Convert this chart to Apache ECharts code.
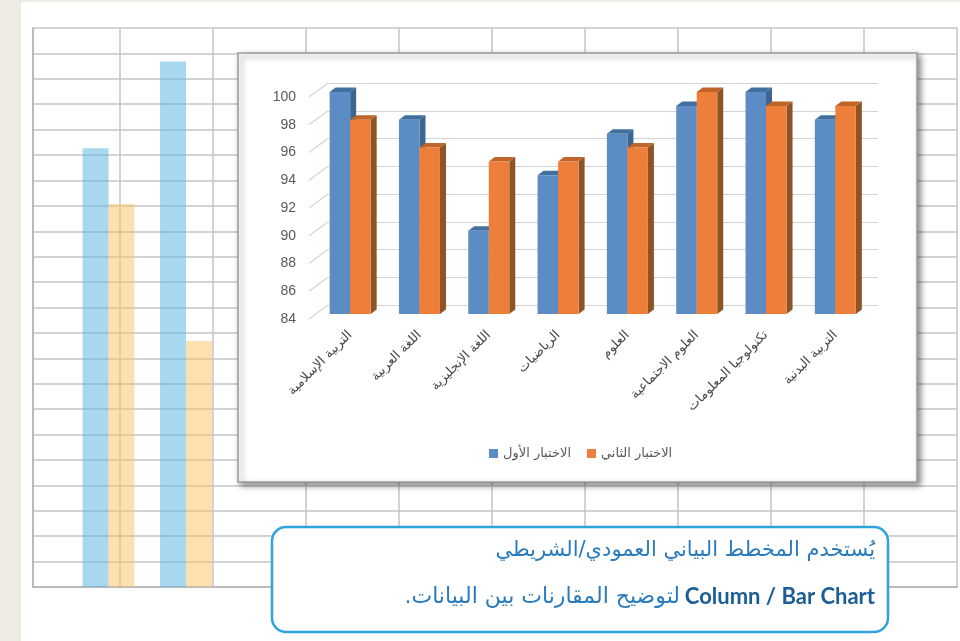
<!DOCTYPE html>
<html><head><meta charset="utf-8">
<script src="https://cdn.jsdelivr.net/npm/echarts@6/dist/echarts.min.js"></script>
<style>html,body{margin:0;padding:0;background:#ffffff;} #c{width:960px;height:641px;}</style>
</head><body><div id="c"></div>
<script>
// ---- data ----
const categories = ['التربية الإسلامية','اللغة العربية','اللغة الإنجليزية','الرياضيات','العلوم','العلوم الاجتماعية','تكنولوجيا المعلومات','التربية البدنية'];
const firstTest = [100, 98, 90, 94, 97, 99, 100, 98];
const secondTest = [98, 96, 95, 95, 96, 100, 99, 99];
const seriesNames = ['الاختبار الأول', 'الاختبار الثاني'];
const yTicks = [84, 86, 88, 90, 92, 94, 96, 98, 100];
const bgCategories = ['1', '2'];
const bgFirst = [78.5, 94];
const bgSecond = [68.5, 44];
const calloutLine1 = 'يُستخدم المخطط البياني العمودي/الشريطي';
const calloutLine2En = 'Column / Bar Chart';
const calloutLine2Ar = 'لتوضيح المقارنات بين البيانات.';

// ---- styles ----
const DEPTH = [6, -4.5];
const TICK_DEPTH = [19, -14];
const blueFaces = {front: '#5b8cc4', side: '#3a6690', top: '#41709e'};
const orangeFaces = {front: '#ee7f3b', side: '#8f5426', top: '#bf6529'};
const AR_FONT = '"DejaVu Sans", sans-serif';
const RLM = '\u200F';

function makeBarRender(side, c) {
  return function (params, api) {
    const idx = api.value(0), v = api.value(1);
    const top = api.coord([idx, v]);
    const base = api.coord([idx, yTicks[0]]);
    const band = api.size([1, 0])[0];
    const w = band * 0.296;
    const x0 = side === 0 ? top[0] - w : top[0];
    const x1 = x0 + w;
    const yt = top[1], yb = base[1];
    const dx = DEPTH[0], dy = DEPTH[1];
    return {type: 'group', children: [
      {type: 'polygon', shape: {points: [[x1, yt], [x1 + dx, yt + dy], [x1 + dx, yb + dy], [x1, yb]]}, style: {fill: c.side}},
      {type: 'polygon', shape: {points: [[x0, yt], [x1, yt], [x1 + dx, yt + dy], [x0 + dx, yt + dy]]}, style: {fill: c.top}},
      {type: 'rect', shape: {x: x0, y: yt, width: w, height: yb - yt}, style: {fill: c.front}}
    ]};
  };
}

const chart = echarts.init(document.getElementById('c'), null, {renderer: 'canvas'});
const option = {
  backgroundColor: '#ffffff',
  animation: false,
  grid: [
    {left: 33, right: 3, top: 28, bottom: 54},          // sheet
    {left: 69.75, right: 735.25, top: 28, bottom: 54},  // sheet bars
    {left: 328, right: 82, top: 83, bottom: 336},        // back wall
    {left: 309, right: 101, top: 97, bottom: 322},       // front plane (labels)
    {left: 315.5, right: 90, top: 92, bottom: 327}       // bar plane
  ],
  xAxis: [
    {gridIndex: 0, type: 'value', min: 0.07, max: 10, splitNumber: 10,
      axisLabel: {show: false}, axisTick: {show: false},
      axisLine: {show: true, lineStyle: {color: '#bababa', width: 2}},
      splitLine: {show: true, lineStyle: {color: '#c4c4c4', width: 1.5}}},
    {gridIndex: 1, type: 'category', data: bgCategories, show: false},
    {gridIndex: 2, type: 'category', data: categories, show: false},
    {gridIndex: 3, type: 'category', data: categories, show: false},
    {gridIndex: 4, type: 'category', data: categories, z: 20,
      axisLine: {show: false}, axisTick: {show: false},
      axisLabel: {rotate: 45, margin: 19, fontSize: 13, color: '#4a4a4a', fontFamily: AR_FONT, interval: 0}}
  ],
  yAxis: [
    {gridIndex: 0, type: 'value', min: 0, max: 22, interval: 1,
      axisLabel: {show: false}, axisTick: {show: false},
      axisLine: {show: true, lineStyle: {color: '#bababa', width: 2}},
      splitLine: {show: true, lineStyle: {color: '#c4c4c4', width: 1.5}}},
    {gridIndex: 1, type: 'value', min: 0, max: 100, show: false},
    {gridIndex: 2, type: 'value', min: 84, max: 100, interval: 2, z: 20,
      axisLabel: {show: false}, axisTick: {show: false}, axisLine: {show: false},
      splitLine: {show: true, lineStyle: {color: '#d4d4d4', width: 1.2}}},
    {gridIndex: 3, type: 'value', min: 84, max: 100, interval: 2, z: 20,
      axisTick: {show: false}, axisLine: {show: false}, splitLine: {show: false},
      axisLabel: {margin: 13, fontSize: 14, color: '#595959', fontFamily: '"Liberation Sans", sans-serif'}},
    {gridIndex: 4, type: 'value', min: 84, max: 100, show: false}
  ],
  legend: {
    data: seriesNames, left: 484, top: 442, z: 30,
    icon: 'rect', itemWidth: 9, itemHeight: 9, itemGap: 16, itemStyle: {borderWidth: 0},
    textStyle: {fontSize: 13, color: '#595959', fontFamily: AR_FONT}
  },
  series: [
    {type: 'bar', xAxisIndex: 1, yAxisIndex: 1, data: bgFirst, barGap: '0%', barCategoryGap: '33%',
      itemStyle: {color: 'rgba(97,184,226,0.55)'}, z: 3, silent: true},
    {type: 'bar', xAxisIndex: 1, yAxisIndex: 1, data: bgSecond, barGap: '0%', barCategoryGap: '33%',
      itemStyle: {color: 'rgba(251,193,97,0.5)'}, z: 3, silent: true},
    {type: 'custom', xAxisIndex: 3, yAxisIndex: 3, z: 25,
      data: yTicks.map(v => [0, v]),
      renderItem: function (params, api) {
        const p = api.coord([0, api.value(1)]);
        const x0 = params.coordSys.x;
        return {type: 'line', shape: {x1: x0, y1: p[1], x2: x0 + TICK_DEPTH[0], y2: p[1] + TICK_DEPTH[1]},
          style: {stroke: '#d4d4d4', lineWidth: 1.2}};
      }},
    {name: seriesNames[0], type: 'custom', xAxisIndex: 4, yAxisIndex: 4, z: 30,
      itemStyle: {color: blueFaces.front},
      data: firstTest.map((v, i) => [i, v]), renderItem: makeBarRender(0, blueFaces)},
    {name: seriesNames[1], type: 'custom', xAxisIndex: 4, yAxisIndex: 4, z: 31,
      itemStyle: {color: orangeFaces.front},
      data: secondTest.map((v, i) => [i, v]), renderItem: makeBarRender(1, orangeFaces)}
  ],
  graphic: [
    {type: 'rect', z: 100, shape: {x: 0, y: 0, width: 21, height: 641}, style: {fill: '#eeebe4'}},
    {type: 'rect', z: 100, shape: {x: 0, y: 0, width: 960, height: 2}, style: {fill: '#eeebe4'}},
    {type: 'rect', z: 10, shape: {x: 238, y: 53, width: 679, height: 429},
      style: {fill: '#ffffff', stroke: '#9a9a9a', lineWidth: 1.5,
        shadowBlur: 6, shadowOffsetX: 3, shadowOffsetY: 3, shadowColor: 'rgba(0,0,0,0.45)'}},
    {type: 'rect', z: 50, shape: {x: 272, y: 527, width: 616, height: 105, r: 14},
      style: {fill: '#ffffff', stroke: '#2ea3dc', lineWidth: 2.5}},
    {type: 'text', z: 51, x: 875, y: 551,
      style: {text: RLM + calloutLine1 + RLM, fill: '#2a7bbd', font: '21px ' + AR_FONT, textAlign: 'right', textVerticalAlign: 'middle'}},
    {type: 'text', z: 51, x: 875, y: 597,
      style: {text: calloutLine2En, fill: '#1b5e96', font: 'bold 22px Lato, sans-serif', textAlign: 'right', textVerticalAlign: 'middle'}},
    {type: 'text', z: 51, x: 680, y: 597,
      style: {text: RLM + calloutLine2Ar + RLM, fill: '#2a7bbd', font: '22px ' + AR_FONT, textAlign: 'right', textVerticalAlign: 'middle'}}
  ]
};
chart.setOption(option);
</script>
</body></html>
